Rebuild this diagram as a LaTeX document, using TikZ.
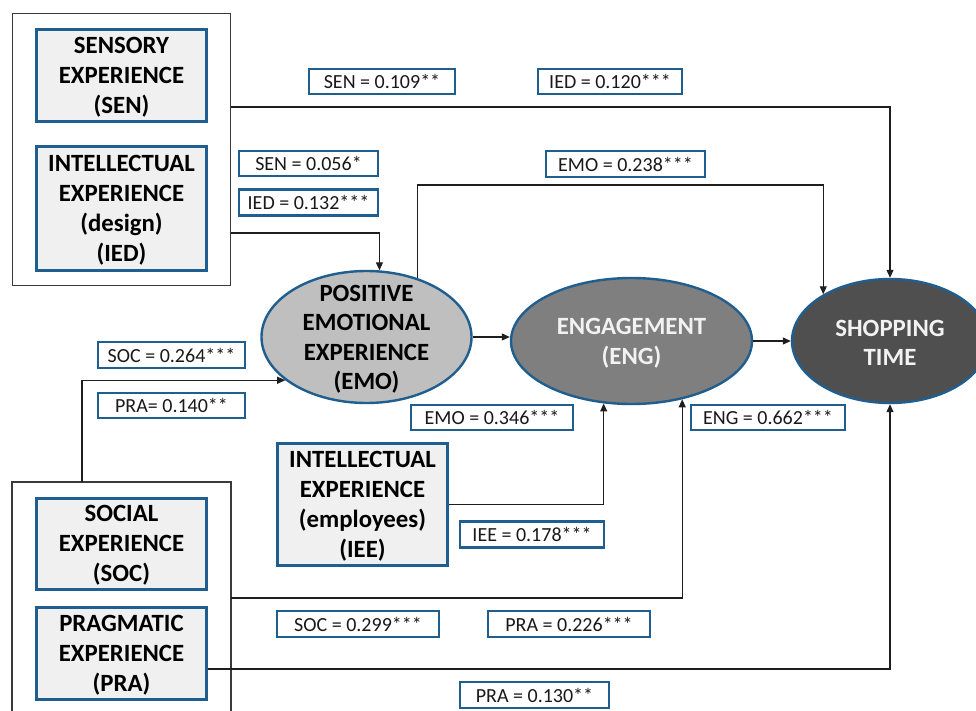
\documentclass[tikz,border=0pt]{standalone}
\usepackage{fontspec}
\setmainfont{Carlito}
\usetikzlibrary{shapes.geometric,arrows.meta}
\definecolor{bblue}{HTML}{1F5E8E}
\definecolor{boxfill}{HTML}{F0F0F0}
\definecolor{grpcol}{HTML}{3A3A3A}
\definecolor{linecol}{HTML}{1E1E1E}
\definecolor{emofill}{HTML}{BFBFBF}
\definecolor{engfill}{HTML}{7F7F7F}
\definecolor{shopfill}{HTML}{4F4F4F}
\definecolor{lighttext}{HTML}{F2F2F2}
\begin{document}
\begin{tikzpicture}[x=1pt,y=-1pt,
  bx/.style={draw=bblue,line width=2.6pt,fill=boxfill,minimum width=170pt,align=center,inner sep=0pt,font=\bfseries\fontsize{24.8}{30}\selectfont},
  lbl/.style={draw=bblue,line width=2.2pt,fill=white,inner sep=0pt,text=black!90,font=\fontsize{20}{22}\selectfont},
  grp/.style={draw=grpcol,line width=1.1pt},
  arr/.style={draw=linecol,line width=1.1pt,-{Triangle[length=8pt,width=7pt]}},
  ell/.style={ellipse,draw=bblue,line width=2.4pt,inner sep=0pt},
  elltext/.style={align=center,inner sep=0pt,font=\bfseries\fontsize{24.8}{29.5}\selectfont}]
\useasboundingbox (0,0) rectangle (976,711);

% group boxes
\node[grp,minimum width=218pt,minimum height=272pt,inner sep=0pt] (grouptop) at (121.5,149.5) {};
\draw[grp] (12,718) -- (12,482) coordinate (gbl) -- (231,482) coordinate (gbr) -- (231,718);

% construct boxes
\node[bx,minimum height=92pt] (sen) at (121.5,75.5) {};
\node[bx,draw=none,fill=none] (sent) at (121.5,77) {SENSORY\\EXPERIENCE\\(SEN)};
\node[bx,minimum height=124pt] (ied) at (121.5,208.5) {};
\node[bx,draw=none,fill=none] (iedt) at (121.5,210) {INTELLECTUAL\\EXPERIENCE\\(design)\\(IED)};
\node[bx,minimum height=91pt] (soc) at (121.5,544) {};
\node[bx,draw=none,fill=none] (soct) at (121.5,545.5) {SOCIAL\\EXPERIENCE\\(SOC)};
\node[bx,minimum height=92pt] (pra) at (121.5,653.5) {};
\node[bx,draw=none,fill=none] (prat) at (121.5,655) {PRAGMATIC\\EXPERIENCE\\(PRA)};
\node[bx,minimum height=122pt] (iee) at (362.5,504.5) {};
\node[bx,draw=none,fill=none] (ieet) at (362.5,506) {INTELLECTUAL\\EXPERIENCE\\(employees)\\(IEE)};

% ellipses
\node[ell,fill=emofill,minimum width=210pt,minimum height=132pt] (emo) at (366.5,337) {};
\node[elltext] (emot) at (366.5,339) {POSITIVE\\EMOTIONAL\\EXPERIENCE\\(EMO)};
\node[ell,fill=engfill,minimum width=241pt,minimum height=126pt] (eng) at (631.5,341) {};
\node[elltext,text=lighttext] (engt) at (631.5,343) {ENGAGEMENT\\(ENG)};
\node[ell,fill=shopfill,minimum width=196pt,minimum height=124pt] (shop) at (890,341) {};
\node[elltext,text=lighttext] (shopt) at (890,343) {SHOPPING\\TIME};

% connector end points
\coordinate (senout) at (231,107);
\coordinate (iedout) at (231,233);
\coordinate (emoshop) at (600,185);
\coordinate (socpraout) at (82,482);
\coordinate (socout) at (231,598);
\coordinate (praout) at (208,669);

% connectors
\draw[arr] (senout) -| (shop.north);
\draw[arr] (iedout) -| (emo.79.4);
\draw[arr] (emo.49.4) |- (emoshop) -| (shop.145.3);
\draw[arr] (emo.east) -- (emo.east -| eng.west);
\draw[arr] (eng.east) -- (shop.west);
\draw[arr] (socpraout) |- (emo.208.8);
\draw[arr] (iee.east) -| (eng.246.2);
\draw[arr] (socout) -| (eng.311.6);
\draw[arr] (praout) -| (shop.south);

% coefficient labels
\node[lbl,minimum width=146pt,minimum height=25pt] (l1) at (382,81.5) {SEN = 0.109**};
\node[lbl,minimum width=144pt,minimum height=25pt] (l2) at (610,81.5) {IED = 0.120***};
\node[lbl,minimum width=139pt,minimum height=25pt] (l3) at (308.5,163.5) {SEN = 0.056*};
\node[lbl,minimum width=139pt,minimum height=26pt] (l4) at (308.5,202.5) {IED = 0.132***};
\node[lbl,minimum width=159pt,minimum height=26pt] (l5) at (625.5,164) {EMO = 0.238***};
\node[lbl,minimum width=147pt,minimum height=26pt] (l6) at (171.5,355) {SOC = 0.264***};
\node[lbl,minimum width=147pt,minimum height=25pt] (l7) at (171.5,405.5) {PRA= 0.140**};
\node[lbl,minimum width=162pt,minimum height=25pt] (l8) at (492,417.5) {EMO = 0.346***};
\node[lbl,minimum width=154pt,minimum height=25pt] (l9) at (768,417.5) {ENG = 0.662***};
\node[lbl,minimum width=144pt,minimum height=26pt] (l10) at (532,534.5) {IEE = 0.178***};
\node[lbl,minimum width=162pt,minimum height=26pt] (l11) at (358,624) {SOC = 0.299***};
\node[lbl,minimum width=162pt,minimum height=26pt] (l12) at (569,624) {PRA = 0.226***};
\node[lbl,minimum width=149pt,minimum height=26pt] (l13) at (534.5,695) {PRA = 0.130**};
\end{tikzpicture}
\end{document}
